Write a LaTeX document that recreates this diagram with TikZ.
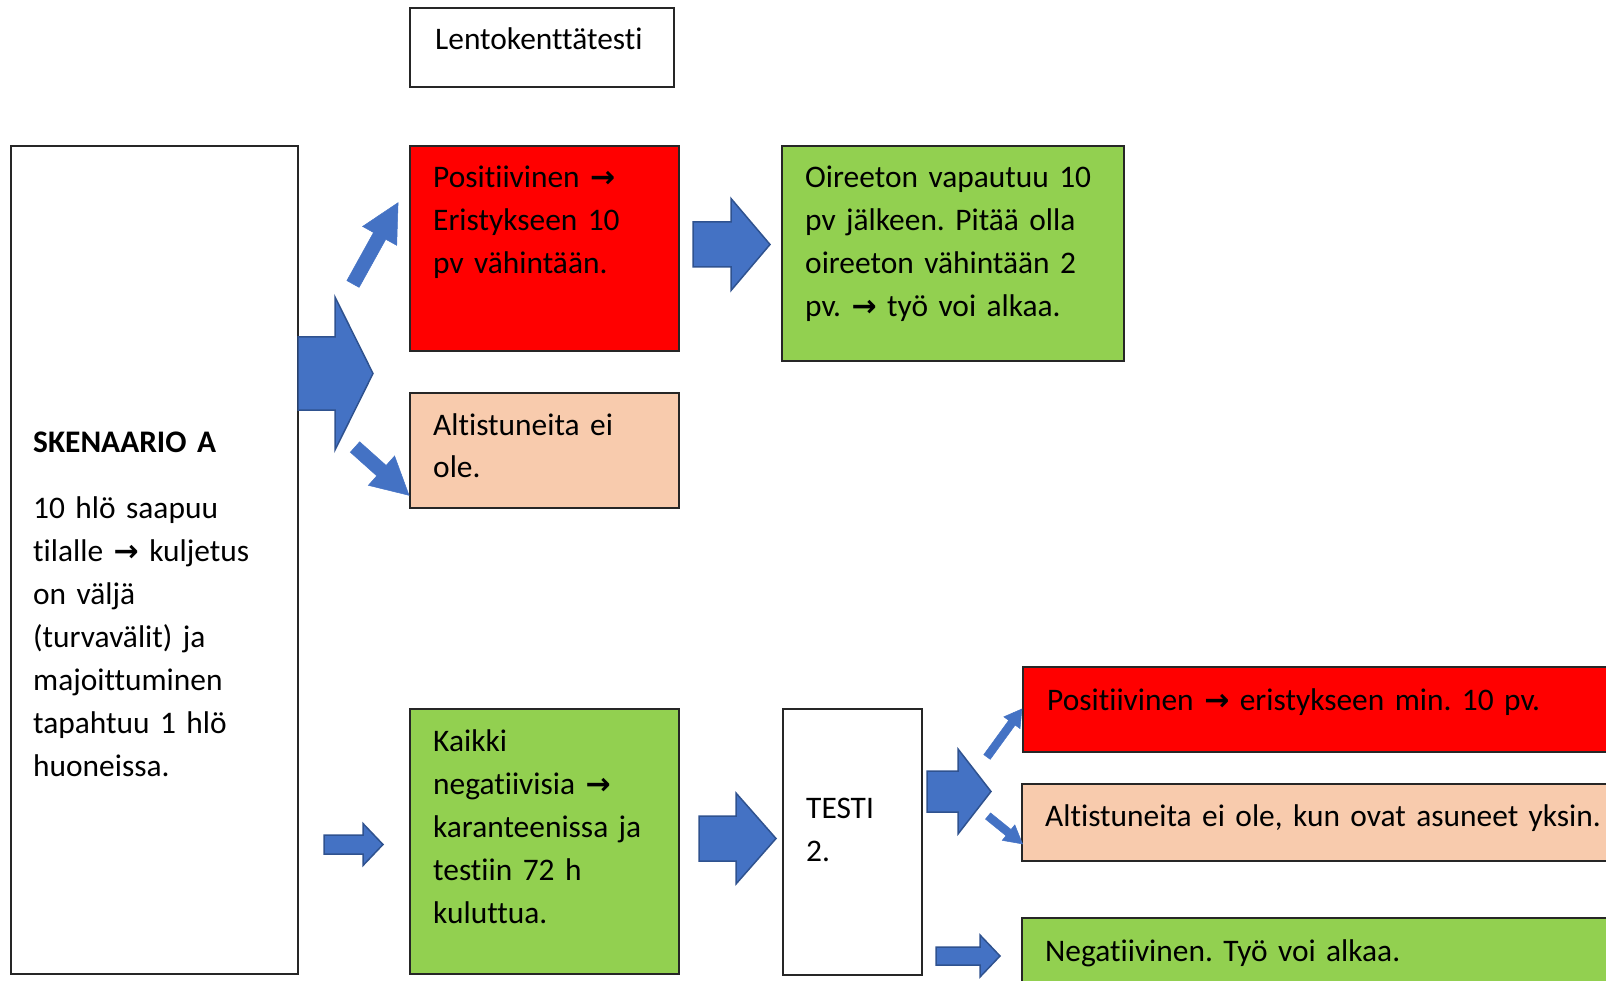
\documentclass[tikz,border=0pt]{standalone}
\usepackage{fontspec}
\setmainfont{Carlito}[Ligatures={NoCommon,NoContextual}]
\newfontfamily\arrowfont{DejaVu Sans}
\frenchspacing

\definecolor{redfill}{HTML}{FF0000}
\definecolor{greenfill}{HTML}{92D050}
\definecolor{peachfill}{HTML}{F8CBAD}
\definecolor{arrowblue}{HTML}{4472C4}
\definecolor{arrowedge}{HTML}{2F528F}

\newcommand{\rarr}{{\arrowfont\bfseries\fontsize{30}{43}\selectfont →}}
% [style] {tail} {angle} {length} {shaft half} {head length} {head half}
\newcommand{\blockarrow}[7][]{%
  \filldraw[barrow,#1,shift={#2},rotate=#3] (0,-#5) -- ({#4-#6},-#5) -- ({#4-#6},-#7)
    -- (#4,0) -- ({#4-#6},#7) -- ({#4-#6},#5) -- (0,#5) -- cycle;}

\begin{document}
\begin{tikzpicture}[x=1pt,y=-1pt]
		\tikzset{box/.style={draw=black!85, line width=1.3pt, anchor=north west, inner sep=0pt, outer sep=0pt}}
		\tikzset{txt/.style={anchor=base west, inner sep=0pt, text width=700pt, align=left,
				font=\fontsize{31.4}{43}\selectfont}}
		\tikzset{barrow/.style={fill=arrowblue, draw=arrowedge, line width=1.5pt, line join=miter}}
		\tikzset{thin arrow/.style={draw=arrowblue, line width=0.5pt}}
		\useasboundingbox (0,0) rectangle (1606,981);
		%boxes
		\node[box, minimum width=264, minimum height=79] (lento) at (410,8) {};
		\node[box, minimum width=287, minimum height=828] (skenaario) at (11,146) {};
		\node[box, fill=redfill, minimum width=269, minimum height=205] (pos1) at (410,146) {};
		\node[box, fill=greenfill, minimum width=342, minimum height=215] (oireeton) at (782,146) {};
		\node[box, fill=peachfill, minimum width=269, minimum height=115] (alt1) at (410,393) {};
		\node[box, fill=greenfill, minimum width=269, minimum height=265] (kaikki) at (410,709) {};
		\node[box, minimum width=139, minimum height=266] (testi) at (783,709) {};
		\node[box, fill=redfill, minimum width=700, minimum height=85] (pos2) at (1023,667) {};
		\node[box, fill=peachfill, minimum width=700, minimum height=77] (alt2) at (1022,784) {};
		\node[box, fill=greenfill, minimum width=700, minimum height=90] (neg) at (1022,918) {};
		%texts
		\node[txt] (lentot) at (435,50) {Lentokenttätesti};
		\node[txt] (skenaariot) at (33,452) {\textbf{SKENAARIO A}\\[23pt]10 hlö saapuu\\tilalle \rarr{} kuljetus\\on väljä\\(turvavälit) ja\\majoittuminen\\tapahtuu 1 hlö\\huoneissa.};
		\node[txt] (pos1t) at (433,188) {Positiivinen \rarr\\Eristykseen 10\\pv vähintään.};
		\node[txt] (oireetont) at (805,188) {Oireeton vapautuu 10\\pv jälkeen. Pitää olla\\oireeton vähintään 2\\pv. \rarr{} työ voi alkaa.};
		\node[txt] (alt1t) at (433,435) {Altistuneita ei\\ole.};
		\node[txt] (kaikkit) at (433,751) {Kaikki\\negatiivisia \rarr\\karanteenissa ja\\testiin 72 h\\kuluttua.};
		\node[txt] (testit) at (806,818) {TESTI\\2.};
		\node[txt] (pos2t) at (1047,710) {Positiivinen \rarr{} eristykseen min. 10 pv.};
		\node[txt] (alt2t) at (1045,826) {Altistuneita ei ole, kun ovat asuneet yksin.};
		\node[txt] (negt) at (1045,961) {Negatiivinen. Työ voi alkaa.};
		%arrows
		\blockarrow{(298,373.5)}{0}{75}{36.5}{38}{76.5}
		\blockarrow[thin arrow]{(353,284)}{61}{93}{7}{38}{19.5}
		\blockarrow[thin arrow]{(355,447)}{-41.8}{72.5}{7}{37}{19.7}
		\blockarrow{(693,244.5)}{0}{77}{22.5}{39}{46}
		\blockarrow{(324,844.5)}{0}{59}{9.5}{20}{21}
		\blockarrow{(699,838.5)}{0}{77}{22.5}{40}{45.5}
		\blockarrow{(927,791.5)}{0}{64}{20.5}{33}{42.5}
		\blockarrow[thin arrow]{(987,757)}{54}{59.4}{4}{17}{10}
		\blockarrow[thin arrow]{(988,816)}{-39}{44.4}{4}{18}{10}
		\blockarrow{(936,956)}{0}{64}{9}{20}{21}
\end{tikzpicture}
\end{document}
